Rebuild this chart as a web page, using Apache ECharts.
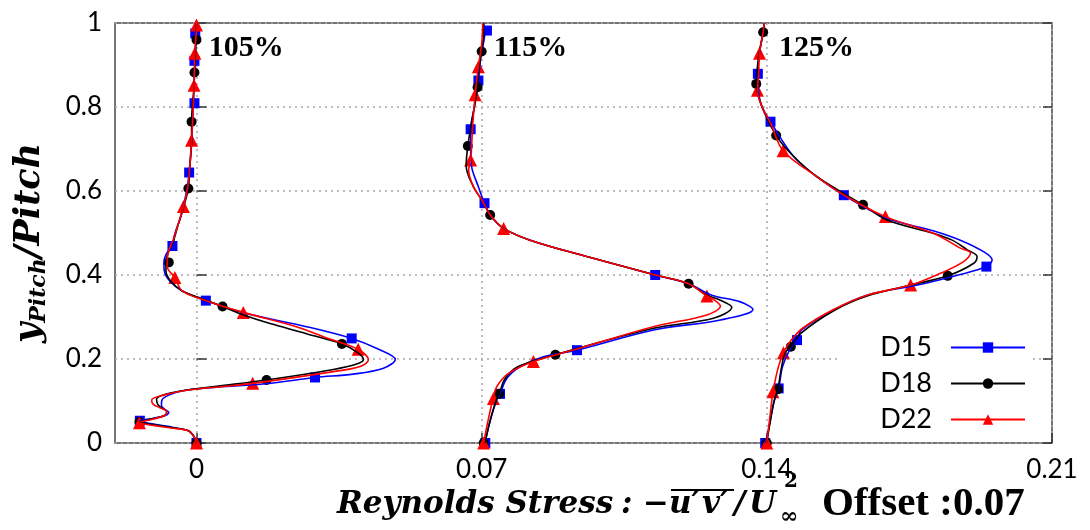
<!DOCTYPE html>
<html>
<head>
<meta charset="utf-8">
<script src="https://cdn.jsdelivr.net/npm/echarts@6/dist/echarts.min.js"></script>
<style>
  html, body { margin: 0; padding: 0; background: #fff; }
  #chart { width: 1090px; height: 530px; }
</style>
</head>
<body>
<div id="chart"></div>
<script>
// Reynolds stress profiles at three downstream stations, each shifted by a fixed offset.
const stations = ['105%', '115%', '125%'];
const stationOffset = 0.07;
const caseNames = ['D15', 'D18', 'D22'];
const xTicks = [0, 0.07, 0.14, 0.21];

// Profiles: [ -u'v'/U^2 , y/Pitch ], smooth curves
const d15_105Line = [[0,0],[-0.0006,0.015],[-0.002,0.029],[-0.0057,0.037],[-0.0106,0.045],[-0.0139,0.053],[-0.0105,0.059],[-0.0075,0.066],[-0.0068,0.073],[-0.0078,0.080],[-0.0086,0.090],[-0.0085,0.102],[-0.0068,0.114],[-0.0032,0.125],[0.005,0.133],[0.017,0.141],[0.0291,0.156],[0.0385,0.164],[0.0459,0.178],[0.0488,0.199],[0.0443,0.225],[0.0381,0.249],[0.027,0.277],[0.0115,0.310],[0.0023,0.339],[-0.0035,0.362],[-0.0065,0.385],[-0.0079,0.410],[-0.008,0.430],[-0.0073,0.452],[-0.0059,0.469],[-0.0053,0.499],[-0.0041,0.531],[-0.0033,0.56],[-0.0023,0.606],[-0.0018,0.644],[-0.0012,0.72],[-0.0008,0.8],[-0.0004,0.9],[0,1]];
const d18_105Line = [[0,0],[-0.0006,0.015],[-0.002,0.029],[-0.0057,0.036],[-0.0106,0.044],[-0.014,0.050],[-0.0106,0.058],[-0.0077,0.066],[-0.0073,0.075],[-0.0085,0.083],[-0.0095,0.092],[-0.0098,0.104],[-0.008,0.115],[-0.003,0.125],[0.005,0.135],[0.0172,0.150],[0.0336,0.175],[0.0393,0.188],[0.041,0.199],[0.0393,0.217],[0.0357,0.236],[0.027,0.26],[0.019,0.282],[0.0115,0.305],[0.0064,0.325],[0.0015,0.343],[-0.0035,0.362],[-0.0063,0.385],[-0.0075,0.41],[-0.0075,0.430],[-0.007,0.452],[-0.0057,0.48],[-0.0045,0.52],[-0.0032,0.56],[-0.002,0.606],[-0.0017,0.65],[-0.0012,0.72],[-0.0012,0.765],[-0.0006,0.85],[-0.0005,0.882],[-0.0002,0.94],[0,1]];
const d22_105Line = [[0,0],[-0.0006,0.015],[-0.002,0.029],[-0.0057,0.035],[-0.0106,0.042],[-0.014,0.048],[-0.0106,0.057],[-0.0077,0.066],[-0.0073,0.075],[-0.009,0.084],[-0.0106,0.092],[-0.011,0.102],[-0.008,0.114],[-0.002,0.126],[0.006,0.134],[0.0138,0.142],[0.0336,0.170],[0.0402,0.182],[0.0422,0.198],[0.0397,0.223],[0.032,0.25],[0.0245,0.277],[0.0115,0.311],[0.002,0.34],[-0.0035,0.362],[-0.0053,0.394],[-0.0072,0.42],[-0.007,0.45],[-0.0055,0.49],[-0.0032,0.563],[-0.002,0.62],[-0.0012,0.721],[-0.0008,0.8],[-0.0006,0.852],[-0.0004,0.928],[0,0.995],[0,1]];

const d15_115Line = [[0.0008,0],[0.002,0.05],[0.0036,0.10],[0.0045,0.117],[0.0062,0.154],[0.0095,0.182],[0.015,0.205],[0.0234,0.221],[0.0422,0.269],[0.0586,0.293],[0.0666,0.318],[0.0635,0.336],[0.0565,0.352],[0.0508,0.379],[0.0426,0.400],[0.0258,0.444],[0.0119,0.483],[0.0054,0.511],[0.0021,0.543],[0.0007,0.571],[-0.0008,0.61],[-0.0025,0.66],[-0.0027,0.70],[-0.0027,0.747],[-0.0018,0.80],[-0.0008,0.863],[-0.0002,0.92],[0.0008,0.98],[0.0005,1]];
const d18_115Line = [[0.0008,0],[0.002,0.05],[0.0035,0.10],[0.0043,0.117],[0.0058,0.154],[0.009,0.182],[0.0181,0.210],[0.0422,0.273],[0.0569,0.297],[0.0614,0.323],[0.0586,0.340],[0.0553,0.352],[0.0508,0.379],[0.0426,0.400],[0.0258,0.444],[0.0119,0.483],[0.0054,0.511],[0.0021,0.543],[0.0003,0.575],[-0.002,0.61],[-0.0038,0.66],[-0.0034,0.707],[-0.0025,0.76],[-0.001,0.847],[-0.0007,0.89],[0,0.932],[0.0005,0.98],[0.0003,1]];
const d22_115Line = [[0.0005,0],[0.0015,0.05],[0.0028,0.106],[0.0037,0.134],[0.0065,0.165],[0.0127,0.194],[0.022,0.22],[0.0422,0.277],[0.0553,0.305],[0.0586,0.326],[0.0569,0.342],[0.0553,0.350],[0.0508,0.379],[0.0426,0.400],[0.0258,0.444],[0.0119,0.483],[0.0054,0.511],[0.0021,0.543],[0.0003,0.575],[-0.002,0.61],[-0.0032,0.65],[-0.0027,0.674],[-0.0024,0.72],[-0.0021,0.77],[-0.0016,0.829],[-0.0008,0.896],[0,0.95],[0.0003,1]];

const d15_125Line = [[-0.0003,0],[0.0008,0.05],[0.0018,0.10],[0.0029,0.130],[0.0038,0.18],[0.0055,0.22],[0.0074,0.245],[0.0085,0.269],[0.0164,0.317],[0.0246,0.352],[0.037,0.376],[0.047,0.40],[0.0539,0.420],[0.0553,0.436],[0.0533,0.455],[0.0475,0.483],[0.041,0.505],[0.0295,0.535],[0.0189,0.590],[0.0123,0.634],[0.0066,0.682],[0.0009,0.765],[-0.0012,0.801],[-0.002,0.833],[-0.0022,0.879],[-0.0018,0.928],[-0.0009,0.978],[-0.0006,1]];
const d18_125Line = [[0,0],[0.0008,0.05],[0.0018,0.10],[0.0027,0.128],[0.0036,0.18],[0.0045,0.215],[0.0059,0.229],[0.0082,0.26],[0.0164,0.315],[0.0246,0.350],[0.0353,0.376],[0.0444,0.398],[0.0508,0.428],[0.0516,0.444],[0.0492,0.46],[0.0455,0.483],[0.041,0.499],[0.0295,0.531],[0.0236,0.567],[0.0123,0.634],[0.0066,0.682],[0.0023,0.732],[-0.0012,0.801],[-0.0026,0.855],[-0.002,0.92],[-0.0009,0.978],[-0.0006,1]];
const d22_125Line = [[0,0],[0.0006,0.05],[0.0012,0.10],[0.0015,0.122],[0.0028,0.18],[0.0041,0.215],[0.006,0.245],[0.009,0.275],[0.0164,0.318],[0.0246,0.352],[0.0353,0.376],[0.0426,0.404],[0.0483,0.432],[0.050,0.452],[0.0475,0.464],[0.041,0.499],[0.0291,0.539],[0.019,0.59],[0.0123,0.634],[0.004,0.696],[0.001,0.76],[-0.0012,0.801],[-0.0023,0.840],[-0.002,0.88],[-0.0018,0.928],[-0.0009,0.978],[-0.0006,1]];

// Measured points shown with markers
const d15_105Pts = [[0,0],[-0.0139,0.053],[0.0291,0.156],[0.0381,0.249],[0.0023,0.339],[-0.0059,0.469],[-0.0018,0.644],[-0.0005,0.809],[-0.0005,0.910],[-0.0003,0.975]];
const d18_105Pts = [[0,0],[-0.014,0.050],[0.0172,0.150],[0.0357,0.236],[0.0064,0.325],[-0.0068,0.430],[-0.002,0.606],[-0.0012,0.765],[-0.0005,0.882],[0,0.960]];
const d22_105Pts = [[0,0],[-0.014,0.048],[0.0138,0.142],[0.0397,0.223],[0.0115,0.311],[-0.0053,0.394],[-0.0032,0.563],[-0.0012,0.721],[-0.0006,0.852],[-0.0004,0.928],[0,0.995]];

const d15_115Pts = [[0.0009,0],[0.0045,0.117],[0.0234,0.221],[0.0426,0.400],[0.0007,0.571],[-0.0027,0.747],[-0.0008,0.863],[0.0013,0.982]];
const d18_115Pts = [[0.0005,0],[0.0043,0.117],[0.0181,0.210],[0.0508,0.379],[0.0021,0.543],[-0.0034,0.707],[-0.001,0.847],[0,0.932]];
const d22_115Pts = [[0.0005,0],[0.0029,0.106],[0.0127,0.194],[0.0553,0.350],[0.0054,0.511],[-0.0027,0.674],[-0.0016,0.829],[-0.0008,0.896]];

const d15_125Pts = [[-0.0004,0],[0.0029,0.130],[0.0074,0.245],[0.0539,0.420],[0.0189,0.590],[0.0009,0.765],[-0.0022,0.879]];
const d18_125Pts = [[0,0],[0.0027,0.128],[0.0059,0.229],[0.0444,0.398],[0.0236,0.567],[0.0023,0.732],[-0.0026,0.855],[-0.0009,0.978]];
const d22_125Pts = [[0,0],[0.0015,0.122],[0.0041,0.215],[0.0353,0.376],[0.0291,0.539],[0.004,0.696],[-0.0023,0.840],[-0.0018,0.928]];

const curves = {
  D15: [d15_105Line, d15_115Line, d15_125Line],
  D18: [d18_105Line, d18_115Line, d18_125Line],
  D22: [d22_105Line, d22_115Line, d22_125Line]
};
const points = {
  D15: [d15_105Pts, d15_115Pts, d15_125Pts],
  D18: [d18_105Pts, d18_115Pts, d18_125Pts],
  D22: [d22_105Pts, d22_115Pts, d22_125Pts]
};

const look = {
  D15: { color: '#0000ff', symbol: 'rect', size: 10 },
  D18: { color: '#000000', symbol: 'circle', size: 10 },
  D22: { color: '#ff0000', symbol: 'triangle', size: 13 }
};

const shift = (arr, i) => arr.map(p => [p[0] + i * stationOffset, p[1]]);

const series = [];
caseNames.forEach(name => {
  const s = look[name];
  curves[name].forEach((c, i) => {
    series.push({
      type: 'line', name, data: shift(c, i),
      smooth: 0.35, symbol: s.symbol, symbolSize: s.size, showSymbol: false,
      lineStyle: { color: s.color, width: 1.6 },
      itemStyle: { color: s.color },
      silent: true, animation: false
    });
  });
  points[name].forEach((p, i) => {
    series.push({
      type: 'scatter', name, data: shift(p, i),
      symbol: s.symbol, symbolSize: s.size, clip: false,
      itemStyle: { color: s.color, opacity: 1 },
      silent: true, animation: false
    });
  });
});

const gridLine = { show: true, lineStyle: { color: '#a8a8a8', width: 1.5, type: [2, 4] } };
const tickStyle = { color: '#333', width: 1.5 };
const tickFont = { fontFamily: 'Lato', fontSize: 26, color: '#000' };

// Axis title pieces, each placed along the baseline
const bi = 'italic bold 31px "DejaVu Serif"';
const tBase = 505;
const titleParts = [
  { t: 'Reynolds Stress', x: 337, f: bi },
  { t: ':', x: 621, f: bi },
  { t: '\u2212', x: 643, f: bi },
  { t: 'u\u2032', x: 669, f: bi },
  { t: 'v\u2032', x: 702, f: bi },
  { t: '/', x: 734, f: bi },
  { t: 'U', x: 749, f: bi }
];
const titleGraphics = titleParts.map(p => ({
  type: 'text', x: p.x, y: tBase, silent: true,
  style: { text: p.t, font: p.f, fill: '#000', align: 'left', verticalAlign: 'middle' }
}));
titleGraphics.push(
  { type: 'line', silent: true, shape: { x1: 671, y1: 490, x2: 734, y2: 490 }, style: { stroke: '#000', lineWidth: 2 } },
  { type: 'text', x: 784, y: 482, silent: true,
    style: { text: '2', font: 'bold 20px "DejaVu Serif"', fill: '#000', align: 'left', verticalAlign: 'middle' } },
  { type: 'text', x: 780, y: 517, silent: true,
    style: { text: '\u221e', font: 'bold 22px "DejaVu Serif"', fill: '#000', align: 'left', verticalAlign: 'middle' } },
  { type: 'text', x: 822, y: 504, silent: true,
    style: { text: 'Offset :0.07', font: 'bold 41px "Liberation Serif"', fill: '#000', align: 'left', verticalAlign: 'middle' } },
  {
    type: 'text', x: 30, y: 243, rotation: Math.PI / 2, silent: true,
    style: {
      text: '{a|y}{b|Pitch}{a|/Pitch}', align: 'center', verticalAlign: 'middle', fill: '#000',
      rich: {
        a: { fontFamily: '"DejaVu Serif"', fontStyle: 'italic', fontWeight: 'bold', fontSize: 35, lineHeight: 40, verticalAlign: 'middle' },
        b: { fontFamily: '"DejaVu Serif"', fontStyle: 'italic', fontWeight: 'bold', fontSize: 22, lineHeight: 22, verticalAlign: 'bottom' }
      }
    }
  }
);

const chart = echarts.init(document.getElementById('chart'), null, { renderer: 'canvas' });
chart.setOption({
  backgroundColor: '#fff',
  animation: false,
  grid: { left: 115, right: 38, top: 23, bottom: 87, show: true, borderColor: '#484848', borderWidth: 1.5 },
  xAxis: {
    type: 'value', min: -0.02, max: 0.21,
    axisLine: { show: false },
    axisTick: { show: true, inside: true, length: 10, customValues: xTicks, lineStyle: tickStyle },
    axisLabel: Object.assign({ customValues: xTicks, margin: 14, formatter: v => String(+(+v).toFixed(2)) }, tickFont),
    splitLine: gridLine
  },
  yAxis: [{
    type: 'value', min: 0, max: 1, interval: 0.2,
    axisLine: { show: false },
    axisTick: { show: true, inside: true, length: 10, lineStyle: tickStyle },
    axisLabel: Object.assign({ margin: 13 }, tickFont),
    splitLine: gridLine
  }, {
    type: 'value', min: 0, max: 1, interval: 0.2, position: 'right',
    axisLine: { show: false },
    axisTick: { show: true, inside: true, length: 9, lineStyle: tickStyle },
    axisLabel: { show: false },
    splitLine: { show: false }
  }],
  legend: {
    data: caseNames, orient: 'vertical', right: 59, top: 330, align: 'right',
    itemWidth: 74, itemHeight: 13, itemGap: 9,
    backgroundColor: '#fff', padding: [4, 5, 4, 40],
    textStyle: { fontFamily: 'Lato', fontSize: 27, color: '#000', padding: [0, 14, 0, 0] },
    selectedMode: false
  },
  graphic: titleGraphics,
  series
});

// Station captions placed beside the top of each profile through the axis scales
const captions = stations.map((t, i) => {
  const [px, py] = chart.convertToPixel({ gridIndex: 0 }, [i * stationOffset + 0.003, 0.94]);
  return {
    type: 'text', x: px, y: py, silent: true,
    style: { text: t, font: 'bold 30px "Liberation Serif"', fill: '#000', align: 'left', verticalAlign: 'middle' }
  };
});
chart.setOption({ graphic: titleGraphics.concat(captions) });
</script>
</body>
</html>
